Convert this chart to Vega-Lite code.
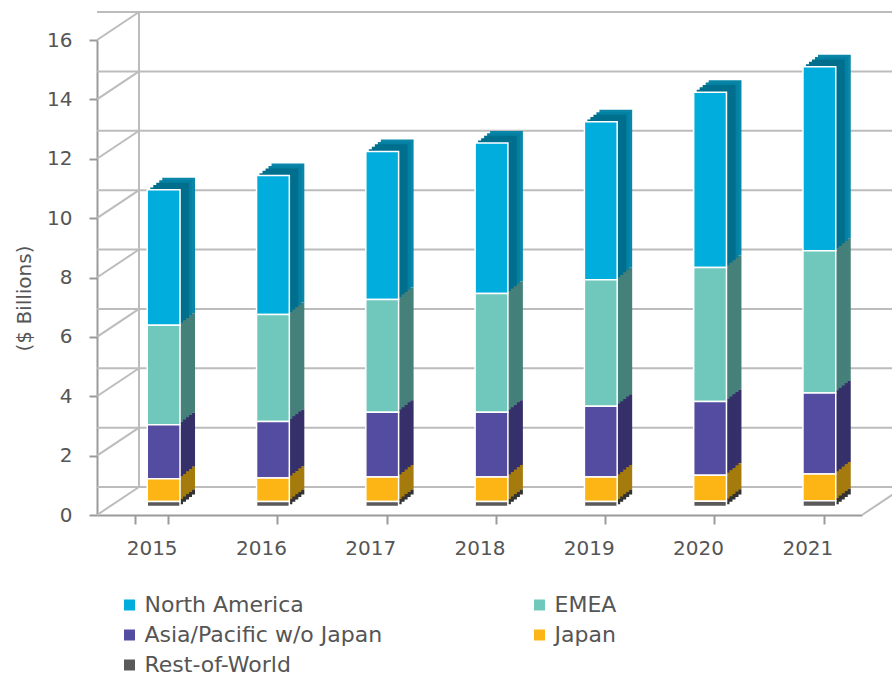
{
  "$schema": "https://vega.github.io/schema/vega-lite/v6.json",
  "autosize": {"type": "none"},
  "padding": {"left": 97, "top": 40, "right": 30, "bottom": 162},
  "width": 765,
  "height": 475,
  "config": {
    "font": "DejaVu Sans",
    "view": {"stroke": null},
    "axisX": {"labelAngle": 0, "labelFont": "DejaVu Sans", "labelFontSize": 20, "labelColor": "#555555", "labelPadding": 14, "domainColor": "#9a9a9a", "domainWidth": 2, "tickColor": "#9a9a9a", "tickWidth": 2, "tickSize": 9, "tickBand": "extent", "grid": false},
    "axisY": {"tickCount": 8, "grid": false, "labelFont": "DejaVu Sans", "labelFontSize": 20, "labelColor": "#555555", "labelPadding": 17, "domainColor": "#9a9a9a", "domainWidth": 2, "tickColor": "#9a9a9a", "tickWidth": 2, "tickSize": 8, "titleFont": "DejaVu Sans", "titleFontSize": 20, "titleFontWeight": "normal", "titleColor": "#555555", "titleX": -73, "titleY": 258, "titleAngle": 270, "titleBaseline": "middle", "titleAlign": "center"}
  },
  "datasets": {
    "sales": [
      {"year": "2015", "region": "North America", "value": 4.56, "k": 5},
      {"year": "2015", "region": "EMEA", "value": 3.35, "k": 4},
      {"year": "2015", "region": "Asia/Pacific w/o Japan", "value": 1.82, "k": 3},
      {"year": "2015", "region": "Japan", "value": 0.77, "k": 2},
      {"year": "2015", "region": "Rest-of-World", "value": 0.17, "k": 1},
      {"year": "2016", "region": "North America", "value": 4.68, "k": 5},
      {"year": "2016", "region": "EMEA", "value": 3.6, "k": 4},
      {"year": "2016", "region": "Asia/Pacific w/o Japan", "value": 1.91, "k": 3},
      {"year": "2016", "region": "Japan", "value": 0.79, "k": 2},
      {"year": "2016", "region": "Rest-of-World", "value": 0.17, "k": 1},
      {"year": "2017", "region": "North America", "value": 4.98, "k": 5},
      {"year": "2017", "region": "EMEA", "value": 3.8, "k": 4},
      {"year": "2017", "region": "Asia/Pacific w/o Japan", "value": 2.18, "k": 3},
      {"year": "2017", "region": "Japan", "value": 0.83, "k": 2},
      {"year": "2017", "region": "Rest-of-World", "value": 0.17, "k": 1},
      {"year": "2018", "region": "North America", "value": 5.07, "k": 5},
      {"year": "2018", "region": "EMEA", "value": 4.0, "k": 4},
      {"year": "2018", "region": "Asia/Pacific w/o Japan", "value": 2.18, "k": 3},
      {"year": "2018", "region": "Japan", "value": 0.83, "k": 2},
      {"year": "2018", "region": "Rest-of-World", "value": 0.17, "k": 1},
      {"year": "2019", "region": "North America", "value": 5.32, "k": 5},
      {"year": "2019", "region": "EMEA", "value": 4.26, "k": 4},
      {"year": "2019", "region": "Asia/Pacific w/o Japan", "value": 2.38, "k": 3},
      {"year": "2019", "region": "Japan", "value": 0.83, "k": 2},
      {"year": "2019", "region": "Rest-of-World", "value": 0.17, "k": 1},
      {"year": "2020", "region": "North America", "value": 5.91, "k": 5},
      {"year": "2020", "region": "EMEA", "value": 4.51, "k": 4},
      {"year": "2020", "region": "Asia/Pacific w/o Japan", "value": 2.48, "k": 3},
      {"year": "2020", "region": "Japan", "value": 0.88, "k": 2},
      {"year": "2020", "region": "Rest-of-World", "value": 0.18, "k": 1},
      {"year": "2021", "region": "North America", "value": 6.2, "k": 5},
      {"year": "2021", "region": "EMEA", "value": 4.79, "k": 4},
      {"year": "2021", "region": "Asia/Pacific w/o Japan", "value": 2.73, "k": 3},
      {"year": "2021", "region": "Japan", "value": 0.9, "k": 2},
      {"year": "2021", "region": "Rest-of-World", "value": 0.2, "k": 1}
    ],
    "grid": [{"v": 0}, {"v": 2}, {"v": 4}, {"v": 6}, {"v": 8}, {"v": 10}, {"v": 12}, {"v": 14}, {"v": 16}]
  },
  "layer": [
    {
      "data": {"name": "grid"},
      "mark": {"type": "rule", "color": "#bcbcbc", "strokeWidth": 2, "xOffset": 42, "x2Offset": 42, "yOffset": -28},
      "encoding": {
        "y": {"field": "v", "type": "quantitative", "title": "($ Billions)", "scale": {"domain": [0, 16], "nice": false}}
      }
    },
    {
      "data": {"name": "grid"},
      "mark": {"type": "rule", "color": "#bcbcbc", "strokeWidth": 2, "xOffset": -38.25, "x2Offset": 3.75, "y2Offset": -28},
      "encoding": {
        "x": {"datum": "2015", "type": "nominal", "title": null, "bandPosition": 0, "scale": {"domain": ["2015", "2016", "2017", "2018", "2019", "2020", "2021"], "paddingInner": 0.7, "paddingOuter": 0.35}},
        "x2": {"datum": "2015", "bandPosition": 0},
        "y": {"field": "v", "type": "quantitative", "title": "($ Billions)"},
        "y2": {"field": "v"}
      }
    },
    {
      "data": {"values": [{"a": 0, "b": 16}]},
      "mark": {"type": "rule", "color": "#bcbcbc", "strokeWidth": 2, "xOffset": 3.75, "yOffset": -28, "y2Offset": -28},
      "encoding": {
        "x": {"datum": "2015", "type": "nominal", "title": null, "bandPosition": 0},
        "y": {"field": "a", "type": "quantitative", "title": "($ Billions)"},
        "y2": {"field": "b"}
      }
    },
    {
      "data": {"values": [{"a": 0}]},
      "mark": {"type": "rule", "color": "#bcbcbc", "strokeWidth": 2, "xOffset": 38.25, "x2Offset": 80.25, "y2Offset": -28},
      "encoding": {
        "x": {"datum": "2021", "type": "nominal", "title": null, "bandPosition": 1},
        "x2": {"datum": "2021", "bandPosition": 1},
        "y": {"field": "a", "type": "quantitative", "title": "($ Billions)"},
        "y2": {"field": "a"}
      }
    },
    {
      "data": {"name": "sales"},
      "mark": {"type": "bar", "xOffset": 27, "yOffset": -20.4, "y2Offset": -20.4},
      "encoding": {
        "x": {"field": "year", "type": "nominal", "title": null},
        "y": {"field": "value", "type": "quantitative", "stack": "zero", "title": "($ Billions)"},
        "order": {"field": "k", "type": "quantitative", "sort": "ascending"},
        "fill": {"field": "region", "type": "nominal", "legend": null, "scale": {"domain": ["North America", "EMEA", "Asia/Pacific w/o Japan", "Japan", "Rest-of-World"], "range": ["#0a86a8", "#45817a", "#35306a", "#a47b0c", "#333333"]}}
      }
    },
    {
      "data": {"name": "sales"},
      "mark": {"type": "bar", "xOffset": 24, "yOffset": -18, "y2Offset": -18},
      "encoding": {
        "x": {"field": "year", "type": "nominal", "title": null},
        "y": {"field": "value", "type": "quantitative", "stack": "zero", "title": "($ Billions)"},
        "order": {"field": "k", "type": "quantitative", "sort": "ascending"},
        "fill": {"field": "region", "type": "nominal", "legend": null, "scale": {"domain": ["North America", "EMEA", "Asia/Pacific w/o Japan", "Japan", "Rest-of-World"], "range": ["#0380a2", "#45817a", "#35306a", "#a47b0c", "#333333"]}}
      }
    },
    {
      "data": {"name": "sales"},
      "mark": {"type": "bar", "xOffset": 21, "yOffset": -15.6, "y2Offset": -15.6},
      "encoding": {
        "x": {"field": "year", "type": "nominal", "title": null},
        "y": {"field": "value", "type": "quantitative", "stack": "zero", "title": "($ Billions)"},
        "order": {"field": "k", "type": "quantitative", "sort": "ascending"},
        "fill": {"field": "region", "type": "nominal", "legend": null, "scale": {"domain": ["North America", "EMEA", "Asia/Pacific w/o Japan", "Japan", "Rest-of-World"], "range": ["#006f8e", "#45817a", "#35306a", "#a47b0c", "#333333"]}}
      }
    },
    {
      "data": {"name": "sales"},
      "mark": {"type": "bar", "xOffset": 18, "yOffset": -13.2, "y2Offset": -13.2},
      "encoding": {
        "x": {"field": "year", "type": "nominal", "title": null},
        "y": {"field": "value", "type": "quantitative", "stack": "zero", "title": "($ Billions)"},
        "order": {"field": "k", "type": "quantitative", "sort": "ascending"},
        "fill": {"field": "region", "type": "nominal", "legend": null, "scale": {"domain": ["North America", "EMEA", "Asia/Pacific w/o Japan", "Japan", "Rest-of-World"], "range": ["#006f8e", "#45817a", "#35306a", "#a47b0c", "#333333"]}}
      }
    },
    {
      "data": {"name": "sales"},
      "mark": {"type": "bar", "xOffset": 15, "yOffset": -10.8, "y2Offset": -10.8},
      "encoding": {
        "x": {"field": "year", "type": "nominal", "title": null},
        "y": {"field": "value", "type": "quantitative", "stack": "zero", "title": "($ Billions)"},
        "order": {"field": "k", "type": "quantitative", "sort": "ascending"},
        "fill": {"field": "region", "type": "nominal", "legend": null, "scale": {"domain": ["North America", "EMEA", "Asia/Pacific w/o Japan", "Japan", "Rest-of-World"], "range": ["#006f8e", "#45817a", "#35306a", "#a47b0c", "#333333"]}}
      }
    },
    {
      "data": {"name": "sales"},
      "mark": {"type": "bar", "xOffset": 12, "yOffset": -8.4, "y2Offset": -8.4, "stroke": "#ffffff", "strokeWidth": 1.5},
      "encoding": {
        "x": {"field": "year", "type": "nominal", "title": null},
        "y": {"field": "value", "type": "quantitative", "stack": "zero", "title": "($ Billions)"},
        "order": {"field": "k", "type": "quantitative", "sort": "ascending"},
        "color": {
          "field": "region", "type": "nominal",
          "scale": {"domain": ["North America", "EMEA", "Asia/Pacific w/o Japan", "Japan", "Rest-of-World"], "range": ["#00addd", "#70c8bd", "#544ca0", "#fdb515", "#5a5a5a"]},
          "legend": {"title": null, "orient": "none", "legendX": 21.5, "legendY": 554, "columns": 2, "direction": "horizontal", "symbolType": "square", "symbolSize": 121, "symbolStrokeWidth": 0, "labelFontSize": 22, "labelColor": "#555555", "labelOffset": 4, "labelLimit": 500, "columnPadding": 146, "rowPadding": 8, "padding": 0}
        }
      }
    }
  ],
  "resolve": {"scale": {"color": "independent", "fill": "independent"}}
}
